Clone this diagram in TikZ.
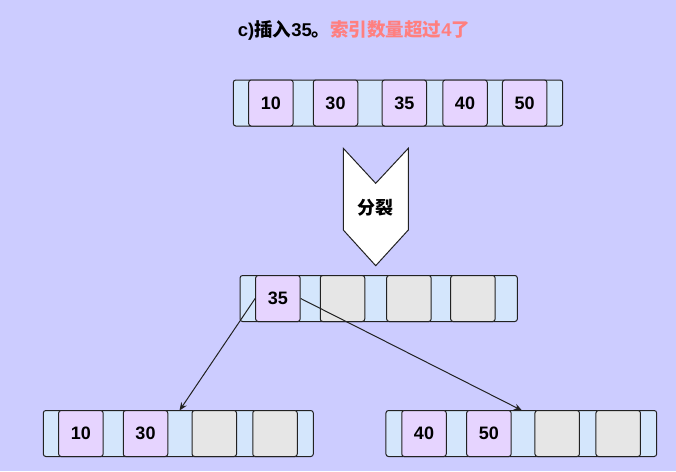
\documentclass[tikz,border=0pt]{standalone}
\usepackage{fontspec}
\setmainfont{Liberation Sans}
\newfontfamily\cjk{Noto Sans CJK SC}
\usetikzlibrary{arrows.meta}
\definecolor{bgviolet}{HTML}{CCCCFF}
\definecolor{ptrblue}{HTML}{D4E6FC}
\definecolor{keyviolet}{HTML}{E6D4FF}
\definecolor{emptygray}{HTML}{E6E6E6}
\definecolor{titlered}{HTML}{FF7F7F}
\definecolor{linegray}{HTML}{222222}

\begin{document}
\begin{tikzpicture}[x=1pt,y=-1pt,
  bar/.style={draw=linegray,fill=ptrblue,rounded corners=2.5pt,line width=1pt,minimum height=46pt,inner sep=0pt},
  key/.style={draw=linegray,fill=keyviolet,rounded corners=2.5pt,line width=1pt,minimum width=44.5pt,minimum height=46pt,inner sep=0pt,font=\fontsize{18}{18}\selectfont\bfseries},
  nokey/.style={key,fill=emptygray},
  link/.style={draw=linegray,line width=1pt,-{Stealth[length=8pt,width=6.5pt]}}]
  \fill[bgviolet] (0,0) rectangle (676,471);
  \useasboundingbox (0,0) rectangle (676,471);

  %title
  \node[font=\fontsize{18.5}{18.5}\selectfont\bfseries] (title) at (354,30)
    {c){\cjk 插入}35{\cjk 。}\textcolor{titlered}{{\cjk 索引数量超过}4{\cjk 了}}};

  %top node
  \node[bar,minimum width=329.4pt] (top) at (398,103) {};
  \node[key] (t1) at (270.9,103) {10};
  \node[key] (t2) at (335.5,103) {30};
  \node[key] (t3) at (404.3,103) {35};
  \node[key] (t4) at (465,103) {40};
  \node[key] (t5) at (524.7,103) {50};

  %split arrow
  \draw[draw=linegray,fill=white,line width=1pt] (343.3,148.3) -- (375.7,183.3) -- (408.3,148.3)
    -- (408.3,230) -- (375.7,265.7) -- (343.3,230) -- cycle;
  \node[font=\fontsize{18}{18}\selectfont\bfseries\cjk] (split) at (375.7,208) {分裂};

  %middle node
  \node[bar,minimum width=277.3pt] (mid) at (378.7,298.5) {};
  \node[key] (m1) at (277.9,298.5) {35};
  \node[nokey] (m2) at (342.5,298.5) {};
  \node[nokey] (m3) at (408.9,298.5) {};
  \node[nokey] (m4) at (472.9,298.5) {};

  %left bottom
  \node[bar,minimum width=270pt] (left) at (178.3,433.5) {};
  \node[key] (l1) at (80.9,433.5) {10};
  \node[key] (l2) at (145.5,433.5) {30};
  \node[nokey] (l3) at (214.3,433.5) {};
  \node[nokey] (l4) at (275,433.5) {};

  %right bottom
  \node[bar,minimum width=270.7pt] (right) at (521.3,433.5) {};
  \node[key] (r1) at (424,433.5) {40};
  \node[key] (r2) at (488.9,433.5) {50};
  \node[nokey] (r3) at (557.2,433.5) {};
  \node[nokey] (r4) at (618.2,433.5) {};

  %pointers
  \coordinate (lgap) at (179.5,410.5);
  \coordinate (rgap) at (522,410.5);
  \draw[link] (m1.west) -- (lgap);
  \draw[link] (m1.east) -- (rgap);
\end{tikzpicture}
\end{document}
